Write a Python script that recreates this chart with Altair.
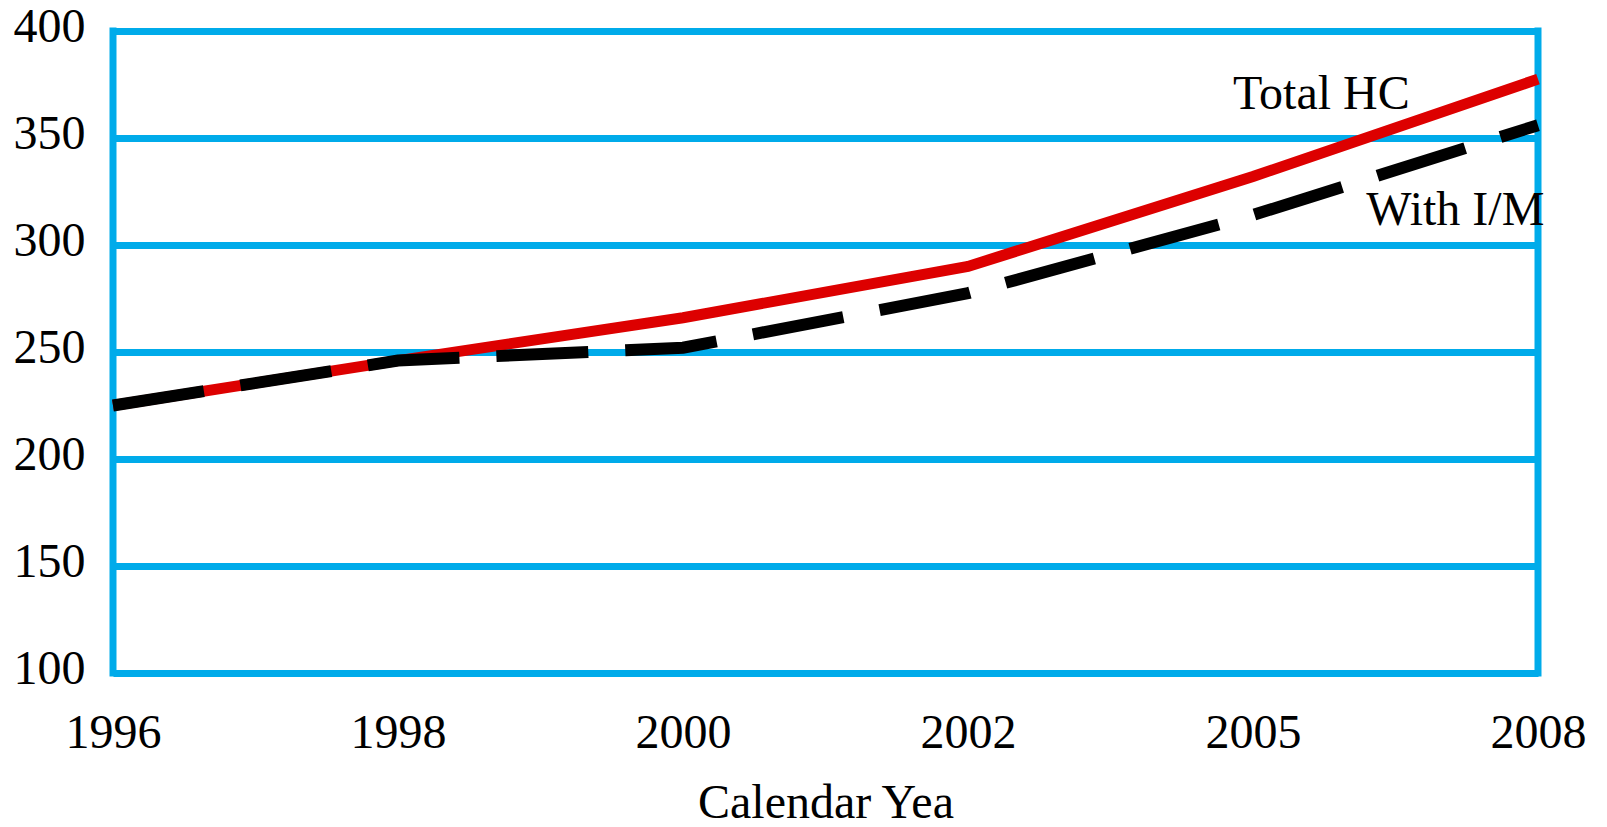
import altair as alt
import pandas as pd

years = ["1996", "1998", "2000", "2002", "2005", "2008"]
total_hc = [225, 246, 266, 290, 332, 377.5]
with_im = [225, 246, 252, 277.5, 314, 356]

label_names = ["Total HC", "With I/M"]
label_pos = [4.24, 4.71]
label_vals = [370, 316]

BLUE = "#00ABEA"
FONT = "Liberation Serif"

rows = []
for i, y in enumerate(years):
    rows.append({"pos": i, "year": y, "value": total_hc[i], "series": "Total HC"})
for i, y in enumerate(years):
    rows.append({"pos": i, "year": y, "value": with_im[i], "series": "With I/M"})
df = pd.DataFrame(rows)

lab = pd.DataFrame({"name": label_names, "pos": label_pos, "value": label_vals})
edges = pd.DataFrame({"pos": [0, len(years) - 1]})

label_expr = "[" + ",".join("'" + y + "'" for y in years) + "][datum.value]"

x_enc = alt.X(
    "pos:Q",
    scale=alt.Scale(domain=[0, len(years) - 1], nice=False, zero=False),
    axis=alt.Axis(
        values=list(range(len(years))),
        labelExpr=label_expr,
        title="Calendar Yea",
        grid=False,
        ticks=False,
        domain=False,
        labelFont=FONT,
        labelFontSize=48,
        labelColor="black",
        labelPadding=36,
        labelFlush=False,
        titleFont=FONT,
        titleFontSize=48,
        titleFontWeight="normal",
        titleColor="black",
        titlePadding=22,
    ),
)
y_enc = alt.Y(
    "value:Q",
    scale=alt.Scale(domain=[100, 400], nice=False, zero=False),
    axis=alt.Axis(
        values=[100, 150, 200, 250, 300, 350, 400],
        title=None,
        grid=True,
        gridColor=BLUE,
        gridWidth=7,
        gridOpacity=1,
        ticks=False,
        domain=False,
        labelFont=FONT,
        labelFontSize=48,
        labelColor="black",
        labelPadding=28,
        labelFlush=False,
        labelBaseline="middle",
        labelOffset=-4,
    ),
)

border = alt.Chart(edges).mark_rule(color=BLUE, strokeWidth=7).encode(
    x=x_enc, y=alt.value(-3.5), y2=alt.value(645.5)
)

red = alt.Chart(df[df.series == "Total HC"]).mark_line(
    color="#DD0000", strokeWidth=11, strokeCap="butt", strokeJoin="miter"
).encode(x="pos:Q", y=y_enc)

black = alt.Chart(df[df.series == "With I/M"]).mark_line(
    color="black", strokeWidth=12, strokeCap="butt", strokeDash=[92, 37], strokeJoin="miter"
).encode(x="pos:Q", y="value:Q")

text = alt.Chart(lab).mark_text(
    font=FONT, fontSize=48, color="black", align="center", baseline="middle"
).encode(x="pos:Q", y="value:Q", text="name:N")

chart = (
    alt.layer(border, red, black, text)
    .properties(
        width=1425,
        height=642,
        background="white",
        autosize=alt.AutoSizeParams(type="none"),
        padding={"left": 105, "top": 23, "right": 55, "bottom": 152},
    )
    .configure_view(stroke=None)
)

chart.save("out.html", embed_options={"renderer": "svg", "actions": False})
